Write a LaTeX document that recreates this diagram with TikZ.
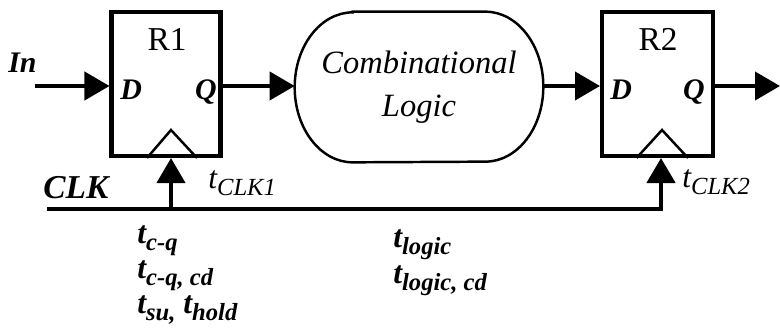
\documentclass[tikz,border=0pt]{standalone}
\usepackage{fontspec}
\setmainfont{Liberation Serif}[
  UprightFont=*,
  ItalicFont=* Italic,
  BoldFont=* Bold,
  BoldItalicFont=* Bold Italic]
\usepackage{tikz}
\usetikzlibrary{arrows.meta, calc, positioning}
\newcommand{\tdly}[1]{\textit{t}\raisebox{-4pt}{\fontsize{14}{14}\selectfont\textit{#1}}}
\tikzset{
  reg/.style={draw, line width=2.3pt, minimum width=2.18cm, minimum height=2.88cm, inner sep=0pt},
  wire/.style={line width=2.3pt, -{Triangle[length=0.5cm,width=0.56cm]}},
  pin/.style={font=\fontsize{17}{17}\selectfont\bfseries\itshape, inner sep=0pt},
  regname/.style={font=\fontsize{19}{19}\selectfont, inner sep=0pt, anchor=base},
  dly/.style={font=\fontsize{18}{18}\selectfont\bfseries\itshape, inner sep=0pt, anchor=base west},
  clkdly/.style={font=\fontsize{18}{18}\selectfont\itshape, inner sep=0pt, anchor=base west},
}

\begin{document}
\begin{tikzpicture}[x=0.02cm, y=-0.02cm]
    \useasboundingbox (0,0) rectangle (780,328);

    % registers
    \node[reg] (r1) at (166,84) {};
    \node[reg, minimum width=2.22cm] (r2) at (657.5,84) {};
    \node[regname] (r1name) at (167,50) {R1};
    \node[regname] (r2name) at (658,50) {R2};
    \node[pin, anchor=base west] (r1d) at (120,99) {D};
    \node[pin, anchor=base east] (r1q) at (217,99) {Q};
    \node[pin, anchor=base west] (r2d) at (610,99) {D};
    \node[pin, anchor=base east] (r2q) at (705,99) {Q};
    \draw[line width=1.4pt] ($(r1.south)+(-19,0)$) -- ($(r1.south)+(5,-28)$) -- ($(r1.south)+(31,0)$);
    \draw[line width=1.4pt] ($(r2.south)+(-21,0)$) -- ($(r2.south)+(4.5,-28)$) -- ($(r2.south)+(30.5,0)$);

    % combinational logic
    \node[minimum width=4.96cm, minimum height=3cm, align=center, font=\fontsize{18.5}{24.5}\selectfont\itshape] (logic) at (419,87) {Combinational\\Logic};
    \draw[line width=1.4pt] ($(logic.north west)+(58,0)$) -- ($(logic.north east)+(-58,0)$)
        arc[start angle=90, end angle=-90, x radius=1.16cm, y radius=1.5cm]
        -- ($(logic.south west)+(58,0)$)
        arc[start angle=270, end angle=90, x radius=1.16cm, y radius=1.5cm] -- cycle;

    % data path
    \coordinate (in) at (35,86);
    \coordinate (out) at (780,86);
    \draw[wire] (in) -- (in -| r1.west);
    \draw[wire] (in -| r1.east) -- (in -| logic.west);
    \draw[wire] (in -| logic.east) -- (in -| r2.west);
    \draw[wire] (in -| r2.east) -- (out);

    % clock
    \coordinate (clk) at (47,209);
    \coordinate (ck1) at (171,209);
    \coordinate (ck2) at (661,209);
    \draw[wire, line width=2.6pt] (clk) -- (ck2) -- (ck2 |- r2.south);
    \draw[wire] (ck1) -- (ck1 |- r1.south);

    % labels
    \node[pin, anchor=base west] (inlbl) at (8,72) {In};
    \node[pin, anchor=base west, font=\fontsize{19}{19}\selectfont\bfseries\itshape] (clklbl) at (43,198) {CLK};
    \node[clkdly] (tclk1) at (208,188) {\tdly{CLK1}};
    \node[clkdly] (tclk2) at (682,187) {\tdly{CLK2}};
    \node[dly] (tcq) at (137,243) {\tdly{c-q}};
    \node[dly] (tcqcd) at (137,278) {\tdly{c-q, cd}};
    \node[dly] (tsuhold) at (137,313) {\tdly{su,}\ \tdly{hold}};
    \node[dly] (tlogic) at (393,247) {\tdly{logic}};
    \node[dly] (tlogiccd) at (393,283) {\tdly{logic, cd}};
\end{tikzpicture}
\end{document}
